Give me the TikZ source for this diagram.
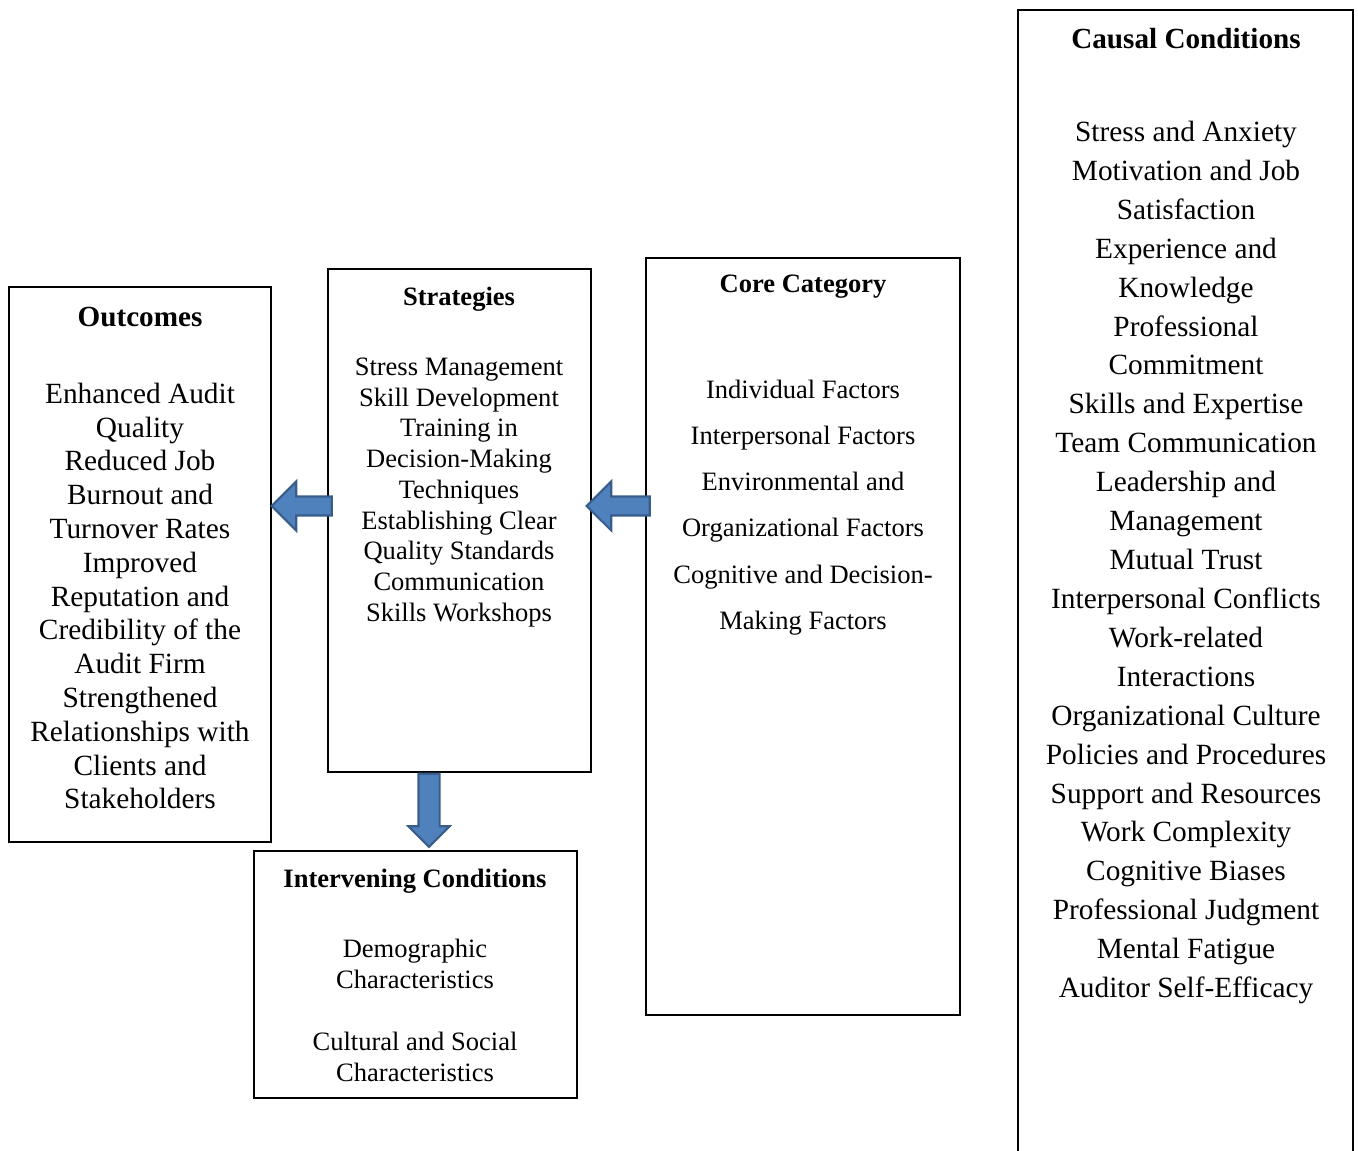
\documentclass[tikz,border=0pt]{standalone}
\usepackage{fontspec}
\setmainfont{Liberation Serif}
\usetikzlibrary{shapes.arrows,positioning}
\definecolor{arrowfill}{RGB}{79,129,189}
\definecolor{arrowedge}{RGB}{56,93,138}

\begin{document}
\begin{tikzpicture}[x=0.02cm,y=-0.02cm,
  box/.style={draw, line width=0.8pt, inner sep=0pt},
  blockarrow/.style={single arrow, fill=arrowfill, draw=arrowedge, line width=1.2pt,
    inner xsep=0pt, text height=0pt, text depth=0pt},
  bigtitle/.style={font=\fontsize{16.6}{19}\selectfont\bfseries},
  smalltitle/.style={font=\fontsize{15.1}{17.5}\selectfont\bfseries},
  body/.style={align=center, inner sep=0pt}]
\useasboundingbox (0,0) rectangle (1358,1151);

% boxes
\node[box, minimum width=5.24cm, minimum height=11.1cm]  (outbox)   at (140,564.5) {};
\node[box, minimum width=5.26cm, minimum height=10.06cm] (stratbox) at (459.5,520.5) {};
\node[box, minimum width=6.28cm, minimum height=15.14cm] (corebox)  at (803,636.5) {};
\node[box, minimum width=6.46cm, minimum height=4.94cm]  (intbox)   at (415.5,974.5) {};
% causal box runs off the bottom of the page
\coordinate (causalbl) at (1018,1151);
\coordinate (causaltr) at (1353,10);
\draw[line width=0.8pt] (causalbl) |- (causaltr) -- (1353,1151);

% OUTCOMES
\node[bigtitle] (outtitle) at (140,317) {Outcomes};
\node[body, font=\fontsize{16.7}{19.24}\selectfont] (outtext) at (140,596)
  {Enhanced Audit\\Quality\\Reduced Job\\Burnout and\\Turnover Rates\\Improved\\Reputation and\\Credibility of the\\Audit Firm\\Strengthened\\Relationships with\\Clients and\\Stakeholders};

% STRATEGIES
\node[smalltitle] (strattitle) at (459,299) {Strategies};
\node[body, font=\fontsize{15.1}{17.5}\selectfont] (strattext) at (459,492.5)
  {Stress Management\\Skill Development\\Training in\\Decision-Making\\Techniques\\Establishing Clear\\Quality Standards\\Communication\\Skills Workshops};

% CORE CATEGORY
\node[smalltitle] (coretitle) at (803,287) {Core Category};
\node[body, font=\fontsize{15.1}{26.3}\selectfont] (coretext) at (803,507.5)
  {Individual Factors\\Interpersonal Factors\\Environmental and\\Organizational Factors\\Cognitive and Decision-\\Making Factors};

% INTERVENING CONDITIONS
\node[smalltitle] (inttitle) at (415,881) {Intervening Conditions};
\node[body, font=\fontsize{15.1}{17.64}\selectfont] (inttext) at (415,1010.5)
  {Demographic\\Characteristics\\[17.64pt]Cultural and Social\\Characteristics};

% CAUSAL CONDITIONS
\node[bigtitle] (causaltitle) at (1186,38.5) {Causal Conditions};
\node[body, font=\fontsize{16.7}{22.15}\selectfont] (causaltext) at (1186,562.5)
  {Stress and Anxiety\\Motivation and Job\\Satisfaction\\Experience and\\Knowledge\\Professional\\Commitment\\Skills and Expertise\\Team Communication\\Leadership and\\Management\\Mutual Trust\\Interpersonal Conflicts\\Work-related\\Interactions\\Organizational Culture\\Policies and Procedures\\Support and Resources\\Work Complexity\\Cognitive Biases\\Professional Judgment\\Mental Fatigue\\Auditor Self-Efficacy};

% block arrows between the boxes
\node[blockarrow, shape border rotate=180, inner ysep=0.17cm, minimum height=1.26cm,
  single arrow head extend=0.3cm] (coretostrat) at (623,506) {};
\node[blockarrow, shape border rotate=180, inner ysep=0.17cm, minimum height=1.2cm,
  single arrow head extend=0.3cm] (strattoout) at (306.5,506) {};
\node[blockarrow, shape border rotate=270, inner sep=0.19cm, minimum height=1.46cm,
  single arrow head extend=0.2cm] (strattoint) at (429,805) {};
\end{tikzpicture}
\end{document}
